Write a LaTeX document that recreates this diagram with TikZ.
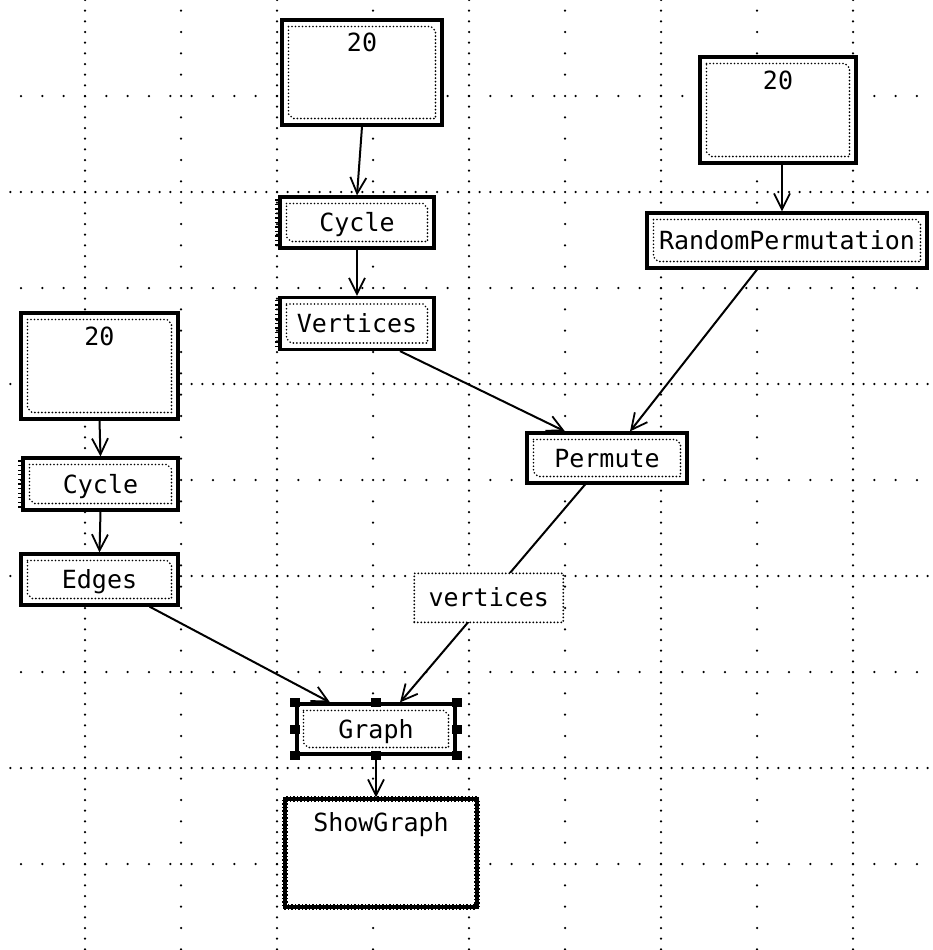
\documentclass[tikz,border=0pt]{standalone}
\usepackage{fontspec}
\newfontfamily\boxfont{DejaVu Sans Mono}
\usetikzlibrary{arrows.meta,calc,decorations.pathreplacing}

\tikzset{
  dotline/.style={line width=1.9pt, line cap=round, dash pattern=on 0pt off 3.5pt},
  gdense/.style={line width=2.5pt, line cap=round, dash pattern=on 0pt off 10.667pt},
  gsparse/.style={line width=2.5pt, line cap=round, dash pattern=on 0pt off 21.333pt},
  blk/.style={draw, line width=3.2pt, fill=white, inner sep=5pt,
    font=\boxfont\fontsize{25}{25}\selectfont, text height=18pt, text depth=0pt,
    path picture={\draw[dotline]
      ([shift={(6.5pt,-6.5pt)}]path picture bounding box.north west) --
      ([shift={(-11pt,-6.5pt)}]path picture bounding box.north east) --
      ([shift={(-6.5pt,-11pt)}]path picture bounding box.north east) --
      ([shift={(-6.5pt,6.5pt)}]path picture bounding box.south east) --
      ([shift={(11pt,6.5pt)}]path picture bounding box.south west) --
      ([shift={(6.5pt,11pt)}]path picture bounding box.south west) -- cycle;}},
  tall/.style={text height=27pt, text depth=#1},
  ticked/.style={draw, line width=3.2pt, fill=white, inner sep=5pt,
    font=\boxfont\fontsize{25}{25}\selectfont,
    postaction={draw, decorate, line width=1.6pt,
      decoration={ticks, segment length=3.5pt, amplitude=3pt}}},
  lbl/.style={draw, dotline, fill=white, inner sep=5pt,
    font=\boxfont\fontsize{25}{25}\selectfont, text height=18pt, text depth=0pt},
  handle/.style={fill=black, inner sep=0pt, minimum width=10pt, minimum height=9pt},
  conn/.style={line width=2pt, -{Straight Barb[length=16pt,width=16pt,line width=1.8pt]}}
}

\begin{document}
\begin{tikzpicture}[x=1pt,y=-1pt]
\useasboundingbox (0,0) rectangle (932,950);

% Grid
\foreach \gx in {85,277,469,661,853} \draw[gdense] (\gx,0) -- (\gx,950);
\foreach \gx in {181,373,565,757} \draw[gsparse] (\gx,10.67) -- (\gx,950);
\foreach \gy in {192,384,576,768} \draw[gdense] (10.33,\gy) -- (932,\gy);
\foreach \gy in {96,288,480,672,864} \draw[gsparse] (21,\gy) -- (932,\gy);

% Boxes, middle column
\node[blk, tall=68pt, minimum width=160pt, minimum height=105pt] (n20a) at (362,72.5) {20};
\node[blk, minimum width=154pt, minimum height=51pt] (cyca) at (357,222.5) {Cycle};
\node[blk, minimum width=154pt, minimum height=52pt] (vert) at (357,323.5) {Vertices};

% Boxes, right column
\node[blk, tall=69pt, minimum width=156pt, minimum height=106pt] (n20b) at (778,110) {20};
\node[blk, minimum width=280pt, minimum height=55pt] (rp) at (787,240.5) {RandomPermutation};
\node[blk, minimum width=160pt, minimum height=50pt] (perm) at (607,458) {Permute};

% Boxes, left column
\node[blk, tall=69pt, minimum width=157pt, minimum height=106pt] (n20c) at (99.5,366) {20};
\node[blk, minimum width=155pt, minimum height=52pt] (cycb) at (100.5,484) {Cycle};
\node[blk, minimum width=157pt, minimum height=51pt] (edg) at (99.5,579.5) {Edges};

% Output
\node[blk, minimum width=158pt, minimum height=50pt] (graph) at (376,729) {Graph};
\node[ticked, text height=27pt, text depth=71pt, minimum width=192pt, minimum height=108pt] (showg) at (381,853) {ShowGraph};

% Port hatching
\foreach \b in {cyca,vert,cycb}
  \foreach \i in {1,...,11}
    \draw[line width=1.3pt] ($(\b.north west)!\i/12!(\b.south west)$) -- ++(-3.5pt,0pt);

% Selection handles
\foreach \a [count=\i] in {north west,north,north east,east,south east,south,south west,west}
  \node[handle] (h\i) at (graph.\a) {};

% Connections
\draw[conn] (n20a.south) -- (cyca.north);
\draw[conn] (cyca.south) -- (vert.north);
\draw[conn] ([xshift=4pt]n20b.south) -- ([xshift=-5pt]rp.north);
\draw[conn] (n20c.south) -- (cycb.north);
\draw[conn] (cycb.south) -- (edg.north);
\draw[conn] ([xshift=43pt]vert.south) -- ([xshift=-42pt]perm.north);
\draw[conn] ([xshift=-30pt]rp.south) -- ([xshift=23pt]perm.north);
\draw[conn] ([xshift=50pt]edg.south) -- ([xshift=-46pt]graph.north);
\draw[conn] ([xshift=-22pt]perm.south) -- node[lbl, pos=0.52, minimum width=149pt, minimum height=49pt] (vlbl) {vertices} ([xshift=24pt]graph.north);
\draw[conn] (graph.south) -- (graph.south |- showg.north);
\end{tikzpicture}
\end{document}
